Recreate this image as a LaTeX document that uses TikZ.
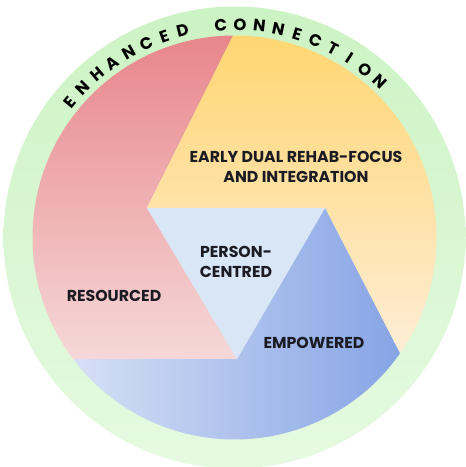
\documentclass[tikz,border=0pt]{standalone}
\usepackage{fontspec}
\setmainfont{Poppins}
\definecolor{ringtop}{HTML}{CCF3C4}
\definecolor{ringbot}{HTML}{E6FAE1}
\definecolor{redtop}{HTML}{E8868B}
\definecolor{redbot}{HTML}{F6D8D8}
\definecolor{yeltop}{HTML}{FFD672}
\definecolor{yelbot}{HTML}{FFEDD6}
\definecolor{blueleft}{HTML}{D6E0F5}
\definecolor{blueright}{HTML}{86A4E5}
\definecolor{midblue}{HTML}{D9E6F6}
\definecolor{inktext}{HTML}{1B1B24}
\tikzset{
segtext/.style={font=\bfseries\fontsize{15.8}{19.5}\selectfont,
align=center,text=inktext},
arcletter/.style={font=\bfseries\fontsize{16.5}{16.5}\selectfont,
inner sep=0pt,text=black}
}
\begin{document}
\begin{tikzpicture}[x=1pt,y=1pt]
\useasboundingbox (0,0) rectangle (466,467);
\coordinate (ctr) at (234.5,229.5);
\coordinate (pa) at (147,259);
\coordinate (pb) at (325,259);
\coordinate (pd) at (237,108);

\shade[top color=ringtop,bottom color=ringbot] (ctr) circle[radius=231];

\shade[top color=redtop,bottom color=redbot]
(pa) -- ([shift={(90.4:202)}]ctr) arc[start angle=90.4,end angle=217,radius=202]
-- (pd) -- cycle;
\shade[top color=yeltop,bottom color=yelbot]
(pa) -- (pb) -- ([shift={(-35:202)}]ctr) arc[start angle=-35,end angle=90.4,radius=202]
-- cycle;
\shade[left color=blueleft,right color=blueright]
(pd) -- (pb) -- ([shift={(-35:202)}]ctr) arc[start angle=-35,end angle=-143,radius=202]
-- cycle;
\fill[midblue] (pa) -- (pb) -- (pd) -- cycle;

\foreach \ch [count=\i from 0] in {E,N,H,A,N,C,E,D,{},C,O,N,N,E,C,T,I,O,N}{
\pgfmathsetmacro{\ang}{140.5-5.2*\i}
\node[arcletter,rotate=\ang-90](arc\i) at ([shift={(\ang:213)}]ctr){\ch};
}

\node[segtext](early) at (296,300){EARLY DUAL REHAB-FOCUS\\AND INTEGRATION};
\node[segtext](person) at (236,205){PERSON-\\CENTRED};
\node[segtext](resourced) at (114,171){RESOURCED};
\node[segtext](empowered) at (314,124){EMPOWERED};
\end{tikzpicture}
\end{document}
